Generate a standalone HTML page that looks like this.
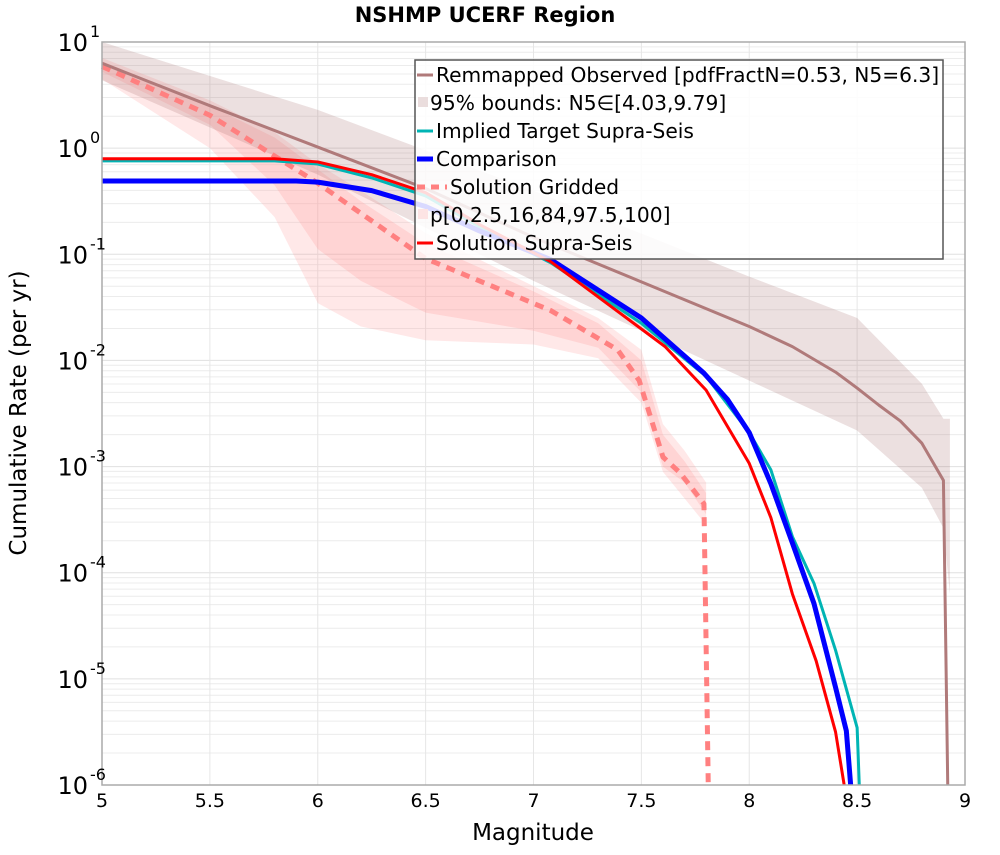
<!DOCTYPE html>
<html><head><meta charset="utf-8"><style>
body{margin:0;background:#fff;font-family:"Liberation Sans","DejaVu Sans",sans-serif}
svg text{font-family:"DejaVu Sans","Liberation Sans",sans-serif}
</style></head><body>
<svg id="chart" width="1000" height="850" viewBox="0 0 1000 850" xmlns="http://www.w3.org/2000/svg">
<text x="485" y="22" text-anchor="middle" font-size="21" font-weight="bold">NSHMP UCERF Region</text>
<g id="grid"></g><g id="bands"></g><g id="lines"></g><g id="axes"></g>
<text x="533" y="840" text-anchor="middle" font-size="23">Magnitude</text>
<text transform="translate(26,413) rotate(-90)" text-anchor="middle" font-size="23">Cumulative Rate (per yr)</text>
<g>
<rect x="415" y="60" width="528" height="199" fill="#fff" fill-opacity="0.85" stroke="#555" stroke-width="1.5"/>
<line x1="417" y1="75" x2="433" y2="75" stroke="#b07a7a" stroke-width="3"/>
<text x="436" y="82" font-size="20.2">Remmapped Observed [pdfFractN=0.53, N5=6.3]</text>
<rect x="418" y="97" width="10" height="10" fill="#eadddd"/>
<text x="430" y="110" font-size="20.2">95% bounds: N5∈[4.03,9.79]</text>
<line x1="417" y1="131" x2="433" y2="131" stroke="#00b4b4" stroke-width="3"/>
<text x="436" y="138" font-size="20.2">Implied Target Supra-Seis</text>
<line x1="417" y1="159" x2="433" y2="159" stroke="#0000ff" stroke-width="5"/>
<text x="436" y="166" font-size="20.2">Comparison</text>
<line x1="417" y1="187" x2="447" y2="187" stroke="#ff8080" stroke-width="5" stroke-dasharray="8,6"/>
<text x="450" y="194" font-size="20.2">Solution Gridded</text>
<rect x="418" y="209" width="10" height="10" fill="#fde4e4"/>
<text x="430" y="222" font-size="20.2">p[0,2.5,16,84,97.5,100]</text>
<line x1="417" y1="243" x2="433" y2="243" stroke="#ff0000" stroke-width="3"/>
<text x="436" y="250" font-size="20.2">Solution Supra-Seis</text>
</g>
</svg>
<script>
const xTicks=[5,5.5,6,6.5,7,7.5,8,8.5,9];
const yDecades=[1,0,-1,-2,-3,-4,-5,-6];
// log10 cumulative rates
const obsM=[5,5.5,6,6.5,7,7.5,8,8.2,8.4,8.5,8.6,8.7,8.8,8.9,8.92];
const obsLog=[0.80,0.40,0.01,-0.38,-0.84,-1.26,-1.68,-1.87,-2.11,-2.26,-2.42,-2.57,-2.78,-3.13,-6];
const obsBandM=[5,6,7,8,8.5,8.8,8.9,8.93];
const obsBandHi=[1.0,0.36,-0.40,-1.21,-1.6,-2.22,-2.55,-2.55];
const obsBandLo=[0.64,-0.25,-1.25,-2.19,-2.66,-3.2,-3.58,-4.2];
const gridBandM=[5,5.5,5.8,6,6.2,6.5,7,7.3,7.5,7.6,7.7,7.8];
const gridOuterHi=[0.85,0.45,0.15,-0.15,-0.4,-0.8,-1.3,-1.6,-1.9,-2.6,-2.85,-3.15];
const gridOuterLo=[0.65,0.0,-0.65,-1.46,-1.68,-1.81,-1.85,-1.98,-2.4,-3.05,-3.3,-3.55];
const gridInnerHi=[0.82,0.40,0.1,-0.2,-0.5,-0.9,-1.35,-1.65,-2.0,-2.7,-2.95,-3.25];
const gridInnerLo=[0.72,0.22,-0.35,-0.95,-1.25,-1.55,-1.72,-1.88,-2.3,-3.0,-3.15,-3.45];
const gridM=[5,5.5,6,6.5,7.08,7.39,7.49,7.6,7.68,7.79,7.81];
const gridLog=[0.77,0.31,-0.33,-1.04,-1.53,-1.9,-2.19,-2.91,-3.06,-3.35,-6];
const tgtM=[5,5.8,6,6.25,6.5,6.75,7.08,7.5,7.8,8.0,8.1,8.2,8.3,8.4,8.5,8.51];
const tgtLog=[-0.12,-0.12,-0.15,-0.28,-0.45,-0.74,-1.08,-1.65,-2.15,-2.68,-3.03,-3.66,-4.1,-4.73,-5.46,-6];
const cmpM=[5,5.9,6,6.25,6.5,6.75,7.08,7.5,7.79,7.9,8.0,8.1,8.2,8.3,8.4,8.45,8.47];
const cmpLog=[-0.31,-0.31,-0.32,-0.40,-0.55,-0.78,-1.05,-1.60,-2.12,-2.37,-2.68,-3.16,-3.72,-4.29,-5.08,-5.49,-6];
const supM=[5,5.8,6,6.25,6.5,6.75,7.08,7.61,7.8,8.0,8.1,8.2,8.31,8.4,8.44];
const supLog=[-0.10,-0.10,-0.13,-0.25,-0.42,-0.72,-1.07,-1.87,-2.28,-2.97,-3.48,-4.2,-4.83,-5.5,-6];

const X0=102,X1=965,Y0=42,Y1=785;
const xs=m=>X0+(m-5)/4*(X1-X0);
const ys=l=>Y0+(1-l)/7*(Y1-Y0);
const NS='http://www.w3.org/2000/svg';
function mk(tag,attrs,parent){const e=document.createElementNS(NS,tag);for(const k in attrs)e.setAttribute(k,attrs[k]);document.getElementById(parent).appendChild(e);return e;}
for(let d=1;d>-6;d--){for(let k=2;k<=9;k++){const l=d-1+Math.log10(k);
 const g=mk('line',{x1:X0,x2:X1,y1:ys(l),y2:ys(l),stroke:'#ececec','stroke-width':1},'grid');
 
 }}
yDecades.forEach(d=>{const g=mk('line',{x1:X0,x2:X1,y1:ys(d),y2:ys(d),stroke:'#e0e0e0','stroke-width':1},'grid');
 
 });
xTicks.forEach(t=>{const g=mk('line',{x1:xs(t),x2:xs(t),y1:Y0,y2:Y1,stroke:'#e6e6e6','stroke-width':1},'grid');
 
 });
function band(M,hi,lo,fill,name){let p=M.map((m,i)=>xs(m)+','+ys(hi[i]));
 for(let i=M.length-1;i>=0;i--)p.push(xs(M[i])+','+ys(lo[i]));
 const e=mk('polygon',{points:p.join(' '),fill:fill},'bands');
 
 }
band(gridBandM,gridOuterHi,gridOuterLo,'rgba(255,150,150,0.22)','gridded-outer-band');
band(gridBandM,gridInnerHi,gridInnerLo,'rgba(255,150,150,0.25)','gridded-inner-band');
band(obsBandM,obsBandHi,obsBandLo,'rgba(160,100,100,0.2)','observed-95-band');
function line(M,L,stroke,w,name,dash){const pts=M.map((m,i)=>xs(m)+','+ys(L[i])).join(' ');
 const e=mk('polyline',{points:pts,fill:'none',stroke:stroke,'stroke-width':w,'stroke-linejoin':'round'},'lines');
 if(dash)e.setAttribute('stroke-dasharray',dash);
 
 }
line(gridM,gridLog,'#ff8080',5,'solution-gridded-line','9,7');
line(obsM,obsLog,'#b07a7a',3,'observed-line');
line(tgtM,tgtLog,'#00b4b4',3,'implied-target-line');
line(cmpM,cmpLog,'#0000ff',5,'comparison-line');
line(supM,supLog,'#ff0000',3,'solution-supra-line');
const fr=mk('rect',{x:X0,y:Y0,width:X1-X0,height:Y1-Y0,fill:'none',stroke:'#aaa','stroke-width':1.5},'axes');


xTicks.forEach(t=>{const e=mk('text',{x:xs(t),y:Y1+22,'text-anchor':'middle','font-size':19},'axes');e.textContent=t;
 
 });
yDecades.forEach(d=>{const e=mk('text',{x:X0-14,y:ys(d)+9,'text-anchor':'end','font-size':24},'axes');
 e.textContent='10';
 
 
 const s=mk('text',{x:X0-12,y:ys(d)-5,'text-anchor':'start','font-size':16},'axes');
 s.textContent=d;
 
 });
</script>
</body></html>
